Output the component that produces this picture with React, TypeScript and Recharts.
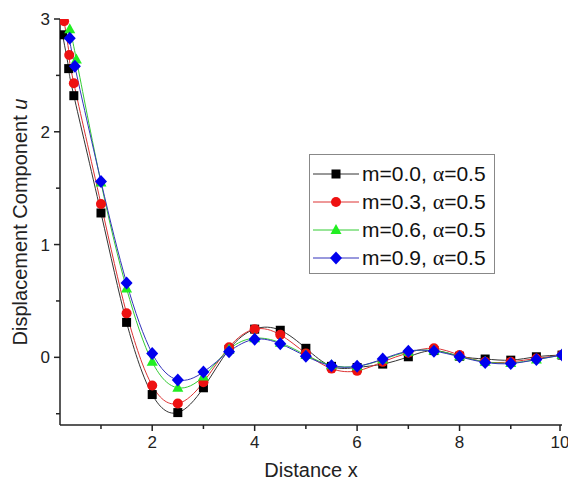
import React from 'react';
import { LineChart, Line, XAxis, YAxis, Label } from 'recharts';

// valores
const xCommon = [1, 1.5, 2, 2.5, 3, 3.5, 4, 4.5, 5, 5.5, 6, 6.5, 7, 7.5, 8, 8.5, 9, 9.5, 10];

const xStartM00 = [0.25, 0.37, 0.47];
const yStartM00 = [2.86, 2.56, 2.32];
const yM00 = [1.28, 0.31, -0.33, -0.49, -0.27, 0.07, 0.25, 0.24, 0.08, -0.08, -0.09, -0.06, 0.005, 0.06, 0.01, -0.015, -0.025, 0.005, 0.02];

const xStartM03 = [0.28, 0.38, 0.47];
const yStartM03 = [2.98, 2.68, 2.43];
const yM03 = [1.36, 0.39, -0.25, -0.41, -0.22, 0.09, 0.25, 0.2, 0.035, -0.1, -0.12, -0.04, 0.04, 0.08, 0.02, -0.04, -0.04, -0.01, 0.02];

const xStartM06 = [0.39, 0.52];
const yStartM06 = [2.91, 2.64];
const yM06 = [1.55, 0.61, -0.04, -0.27, -0.17, 0.07, 0.17, 0.13, 0.02, -0.07, -0.08, -0.02, 0.05, 0.06, 0.01, -0.04, -0.05, -0.02, 0.02];

const xStartM09 = [0.39, 0.49];
const yStartM09 = [2.83, 2.58];
const yM09 = [1.56, 0.66, 0.035, -0.2, -0.13, 0.05, 0.16, 0.12, 0.01, -0.075, -0.08, -0.015, 0.055, 0.055, 0.005, -0.045, -0.055, -0.02, 0.02];

const xTicks = [1, 2, 3, 4, 5, 6, 7, 8, 9, 10];
const yTicks = [-0.5, 0, 0.5, 1, 1.5, 2, 2.5, 3];

const FONT = '"Liberation Sans", Arial, sans-serif';

function toPoints(xs: number[], ys: number[]) {
  return xs.map((x, i) => ({ x, y: ys[i] }));
}

const series = [
  { name: 'm=0.0', shape: 'square', color: '#000000', line: '#333333', data: toPoints([...xStartM00, ...xCommon], [...yStartM00, ...yM00]) },
  { name: 'm=0.3', shape: 'circle', color: '#ee1111', line: '#dd3333', data: toPoints([...xStartM03, ...xCommon], [...yStartM03, ...yM03]) },
  { name: 'm=0.6', shape: 'triangle', color: '#22ee22', line: '#33cc33', data: toPoints([...xStartM06, ...xCommon], [...yStartM06, ...yM06]) },
  { name: 'm=0.9', shape: 'diamond', color: '#0000ee', line: '#3333bb', data: toPoints([...xStartM09, ...xCommon], [...yStartM09, ...yM09]) },
];

function Marker({ shape, color, cx, cy }: { shape: string; color: string; cx: number; cy: number }) {
  if (shape === 'square') return <rect x={cx - 4.5} y={cy - 4.5} width={9} height={9} fill={color} />;
  if (shape === 'circle') return <circle cx={cx} cy={cy} r={5} fill={color} />;
  if (shape === 'triangle')
    return <polygon points={`${cx},${cy - 6} ${cx + 5.5},${cy + 4} ${cx - 5.5},${cy + 4}`} fill={color} />;
  return <polygon points={`${cx},${cy - 6.5} ${cx + 6},${cy} ${cx},${cy + 6.5} ${cx - 6},${cy}`} fill={color} />;
}

const makeDot = (shape: string, color: string) => (props: any) => {
  const { cx, cy, index } = props;
  if (cx == null || cy == null) return <g key={index} />;
  return <Marker key={index} shape={shape} color={color} cx={cx} cy={cy} />;
};

function XTick({ x, y, payload }: any) {
  const major = payload.value % 2 === 0;
  return (
    <g>
      <line x1={x} y1={y} x2={x} y2={y + (major ? 6 : 4)} stroke="#222" strokeWidth={1.5} />
      {major && (
        <text x={x} y={y + 23} textAnchor="middle" fontSize={17} fill="#222" fontFamily={FONT}>
          {payload.value}
        </text>
      )}
    </g>
  );
}

function YTick({ x, y, payload }: any) {
  const major = Number.isInteger(payload.value);
  return (
    <g>
      <line x1={x} y1={y} x2={x - (major ? 6 : 4)} y2={y} stroke="#222" strokeWidth={1.5} />
      {major && (
        <text x={x - 10} y={y + 6} textAnchor="end" fontSize={17} fill="#222" fontFamily={FONT}>
          {payload.value}
        </text>
      )}
    </g>
  );
}

function YLabel({ viewBox }: any) {
  const cx = viewBox.x + 20;
  const cy = viewBox.y + viewBox.height / 2;
  return (
    <text
      x={cx}
      y={cy}
      transform={`rotate(-90 ${cx} ${cy})`}
      textAnchor="middle"
      dy={7}
      fontSize={20}
      fill="#222"
      fontFamily={FONT}
    >
      Displacement Component <tspan fontStyle="italic">u</tspan>
    </text>
  );
}

function LegendBox() {
  return (
    <div
      style={{
        position: 'absolute',
        left: 309,
        top: 154,
        border: '1px solid #888',
        background: '#fff',
        width: 186,
        height: 120,
        padding: '5px 0 0 0',
        boxSizing: 'border-box',
        fontFamily: FONT,
      }}
    >
      {series.map((s) => (
        <div key={s.name} style={{ display: 'flex', alignItems: 'center', height: 28 }}>
          <svg width={52} height={28} style={{ flex: 'none' }}>
            <line x1={3} y1={14} x2={49} y2={14} stroke={s.line} strokeWidth={1} />
            <Marker shape={s.shape} color={s.color} cx={26} cy={14} />
          </svg>
          <span style={{ fontSize: 21, color: '#111', whiteSpace: 'nowrap' }}>
            {s.name}, <span style={{ fontFamily: '"Liberation Serif", "Times New Roman", serif', fontSize: 22 }}>α</span>=0.5
          </span>
        </div>
      ))}
    </div>
  );
}

export default function App() {
  return (
    <div style={{ position: 'absolute', left: 0, top: 0, width: 568, height: 489, background: '#fff' }}>
      <LineChart width={568} height={489} margin={{ top: 19, right: 6, bottom: 0, left: 0 }}>
        <XAxis
          type="number"
          dataKey="x"
          domain={[0.2, 10]}
          ticks={xTicks}
          allowDataOverflow
          height={64}
          tickSize={0}
          tickMargin={0}
          tick={<XTick />}
          stroke="#222"
          strokeWidth={1.5}
        >
          <Label
            value="Distance x"
            position="insideBottom"
            offset={12}
            style={{ fontSize: 20, fill: '#222', fontFamily: FONT }}
          />
        </XAxis>
        <YAxis
          type="number"
          dataKey="y"
          domain={[-0.6, 3]}
          ticks={yTicks}
          allowDataOverflow
          width={60}
          tickSize={0}
          tickMargin={0}
          tick={<YTick />}
          stroke="#222"
          strokeWidth={1.5}
          label={<YLabel />}
        />
        {series.map((s) => (
          <Line
            key={s.name}
            name={s.name}
            data={s.data}
            dataKey="y"
            type="natural"
            stroke={s.line}
            strokeWidth={1}
            dot={makeDot(s.shape, s.color)}
            activeDot={false}
            isAnimationActive={false}
          />
        ))}
      </LineChart>
      <LegendBox />
    </div>
  );
}
